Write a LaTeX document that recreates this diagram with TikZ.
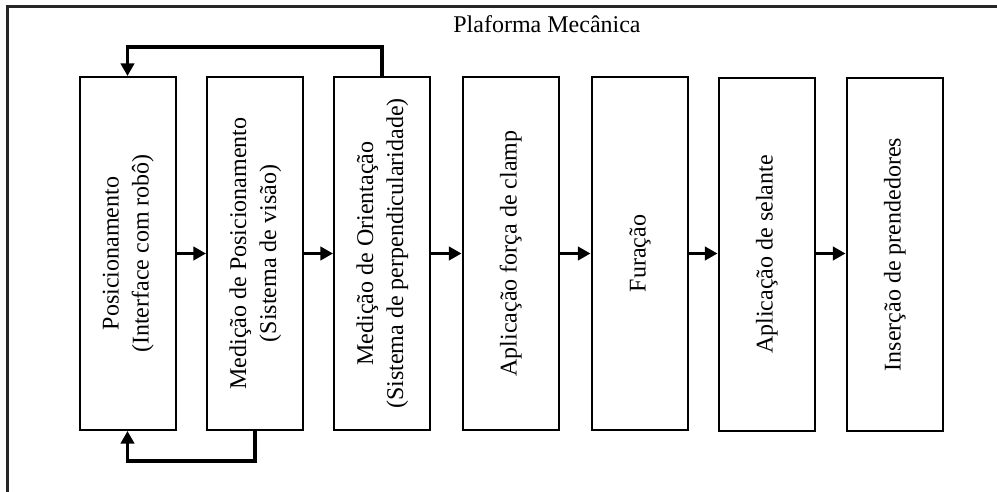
\documentclass[tikz,border=0pt]{standalone}
\usepackage{fontspec}
\setmainfont{Liberation Serif}
\usetikzlibrary{arrows.meta}

\tikzset{
  stage/.style={draw, line width=1.5pt, minimum width=72pt, minimum height=264.75pt,
                inner sep=0pt, font=\fontsize{18pt}{22.5pt}\selectfont},
  flow/.style={line width=2.4pt, -{Triangle[length=9.5pt,width=10pt]}},
  frame/.style={line width=1.6pt, draw=black!85}
}

\newcommand{\vtext}[1]{\rotatebox{90}{\begin{tabular}{@{}c@{}}#1\end{tabular}}}

\begin{document}
\begin{tikzpicture}[x=0.75pt, y=-0.75pt]
  \useasboundingbox (0,0) rectangle (997,492);

  % open frame of the platform
  \draw[frame] (997,6.5) -- (7.5,6.5) -- (7.5,492);
  \node[font=\fontsize{18pt}{22.5pt}\selectfont] (title) at (547,24) {Plaforma Mecânica};

  % process stages
  \node[stage] (b1) at (127.5,253.5) {\vtext{Posicionamento\\(Interface com robô)}};
  \node[stage] (b2) at (255,253.5)   {\vtext{Medição de Posicionamento\\(Sistema de visão)}};
  \node[stage] (b3) at (382,253.5)   {\vtext{Medição de Orientação\\(Sistema de perpendicularidade)}};
  \node[stage] (b4) at (510.5,253.5) {\vtext{Aplicação força de clamp}};
  \node[stage] (b5) at (639.5,253.5) {\vtext{Furação}};
  \node[stage] (b6) at (766.5,254.5) {\vtext{Aplicação de selante}};
  \node[stage] (b7) at (894.5,254.5) {\vtext{Inserção de prendedores}};

  % forward flow
  \draw[flow] (b1.east) -- (b2.west);
  \draw[flow] (b2.east) -- (b3.west);
  \draw[flow] (b3.east) -- (b4.west);
  \draw[flow] (b4.east) -- (b5.west);
  \draw[flow] (b5.east) -- (b6.west |- b5.east);
  \draw[flow] (b6.east |- b5.east) -- (b7.west |- b5.east);

  % feedback loops
  \draw[flow] (b3.north) -- ++(0,-29) -| (b1.north);
  \draw[flow] (b2.south) -- ++(0,30) -| (b1.south);
\end{tikzpicture}
\end{document}
